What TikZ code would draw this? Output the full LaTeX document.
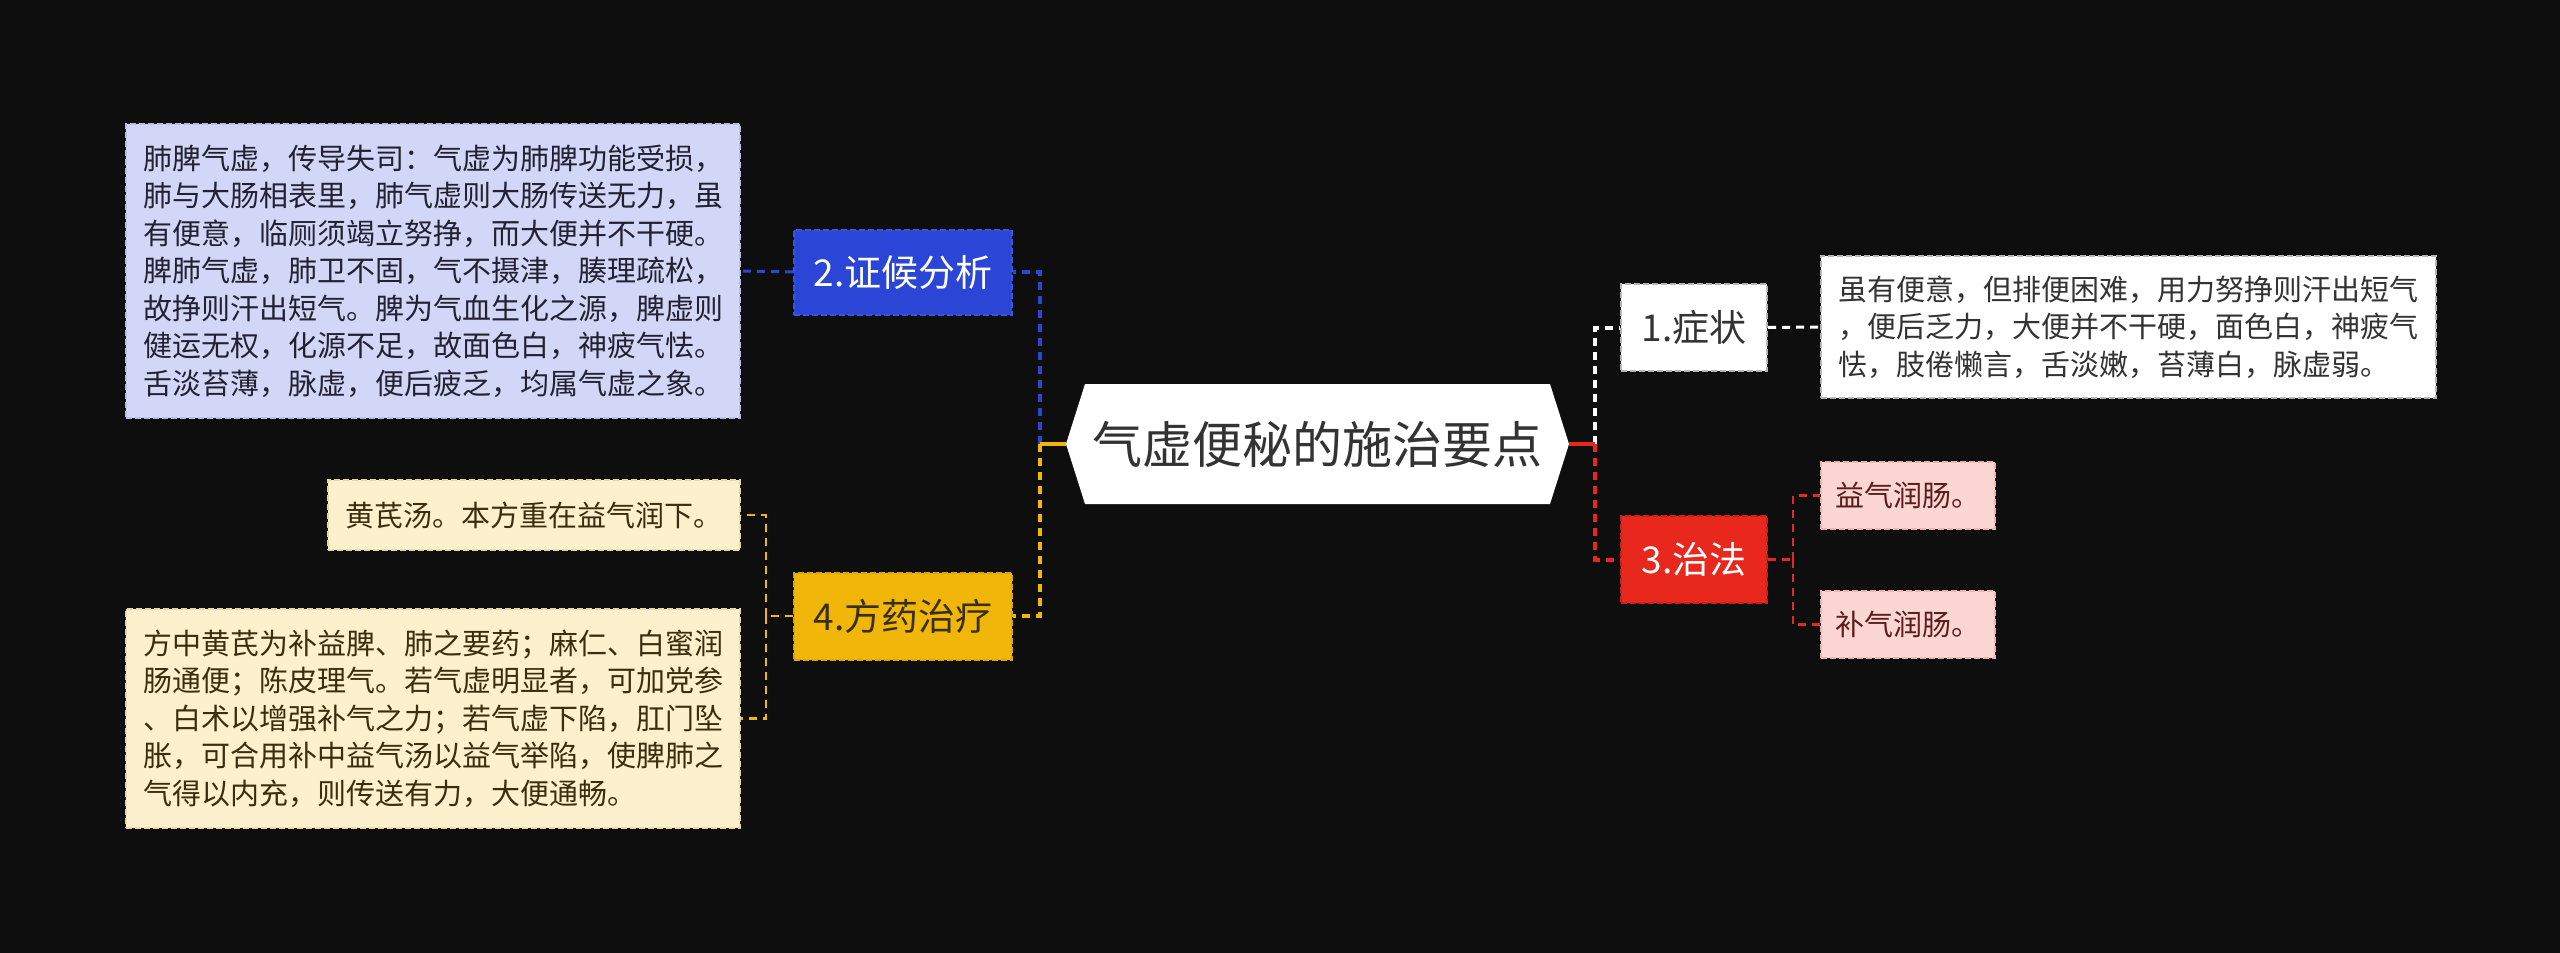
\documentclass[tikz,border=0pt]{standalone}
\usepackage{fontspec}
\setmainfont{Noto Sans CJK SC}
\usetikzlibrary{calc}
\definecolor{bg}{HTML}{0E0E0E}
\definecolor{cblue}{HTML}{2B46D7}
\definecolor{cblueb}{HTML}{3A55E0}
\definecolor{cyellow}{HTML}{F0B70A}
\definecolor{cyellowb}{HTML}{D9A508}
\definecolor{cred}{HTML}{E8281C}
\definecolor{credb}{HTML}{D02015}
\definecolor{clav}{HTML}{D3D7F7}
\definecolor{clavb}{HTML}{B7BCEC}
\definecolor{ccream}{HTML}{FDF1CD}
\definecolor{ccreamb}{HTML}{E6D7A8}
\definecolor{cpink}{HTML}{FCD6D3}
\definecolor{cpinkb}{HTML}{E9B5B0}
\definecolor{cwhiteb}{HTML}{B5B5B5}
\definecolor{ctext}{HTML}{333333}
\definecolor{clavt}{HTML}{222233}
\definecolor{ccreamt}{HTML}{3A2E10}
\definecolor{cpinkt}{HTML}{5A1E1E}
\begin{document}
\begin{tikzpicture}[x=1pt,y=-1pt,
  box/.style={inner sep=0pt, line width=2pt, dash pattern=on 6pt off 3pt},
  leaf/.style={box, align=left, font=\fontsize{29}{37.5}\selectfont},
  branch/.style={box, font=\fontsize{37}{44}\selectfont},
  trunk/.style={line width=4pt},
  dashtrunk/.style={line width=4pt, dash pattern=on 8pt off 6pt},
  dashthin/.style={line width=2.5pt, dash pattern=on 8pt off 6pt}]
\fill[bg] (0,0) rectangle (2560,953);
\useasboundingbox (0,0) rectangle (2560,953);
% central hexagon
\fill[white] (1066,444) -- (1085,384) -- (1550,384) -- (1569,444) -- (1550,504) -- (1085,504) -- cycle;
\node[inner sep=0pt, minimum width=503pt, minimum height=120pt, text=ctext, font=\fontsize{50}{60}\selectfont] (root) at (1317.5,444) {气虚便秘的施治要点};
% branches
\node[branch, fill=cblue, draw=cblueb, text=white, minimum width=218pt, minimum height=85pt] (b2) at (903,272) {2.证候分析};
\node[branch, fill=cyellow, draw=cyellowb, text=ccreamt, minimum width=218pt, minimum height=87pt] (b4) at (903,616) {4.方药治疗};
\node[branch, fill=white, draw=cwhiteb, text=ctext, minimum width=146pt, minimum height=87pt] (b1) at (1694,327.5) {1.症状};
\node[branch, fill=cred, draw=credb, text=white, minimum width=146pt, minimum height=87pt] (b3) at (1694,559.5) {3.治法};
% leaves
\node[leaf, fill=white, draw=cwhiteb, text=ctext, minimum width=615pt, minimum height=142pt] (l1) at (2128.5,327) {虽有便意，但排便困难，用力努挣则汗出短气\\，便后乏力，大便并不干硬，面色白，神疲气\\怯，肢倦懒言，舌淡嫩，苔薄白，脉虚弱。};
\node[leaf, fill=cpink, draw=cpinkb, text=cpinkt, minimum width=174pt, minimum height=67pt] (l31) at (1908,495.5) {益气润肠。};
\node[leaf, fill=cpink, draw=cpinkb, text=cpinkt, minimum width=174pt, minimum height=67pt] (l32) at (1908,624.5) {补气润肠。};
\node[leaf, fill=clav, draw=clavb, text=clavt, minimum width=614pt, minimum height=294pt] (l2) at (433,271) {肺脾气虚，传导失司：气虚为肺脾功能受损，\\肺与大肠相表里，肺气虚则大肠传送无力，虽\\有便意，临厕须竭立努挣，而大便并不干硬。\\脾肺气虚，肺卫不固，气不摄津，腠理疏松，\\故挣则汗出短气。脾为气血生化之源，脾虚则\\健运无权，化源不足，故面色白，神疲气怯。\\舌淡苔薄，脉虚，便后疲乏，均属气虚之象。};
\node[leaf, fill=ccream, draw=ccreamb, text=ccreamt, minimum width=412pt, minimum height=70pt] (l41) at (534,515) {黄芪汤。本方重在益气润下。};
\node[leaf, fill=ccream, draw=ccreamb, text=ccreamt, minimum width=614pt, minimum height=219pt] (l42) at (433,718.5) {方中黄芪为补益脾、肺之要药；麻仁、白蜜润\\肠通便；陈皮理气。若气虚明显者，可加党参\\、白术以增强补气之力；若气虚下陷，肛门坠\\胀，可合用补中益气汤以益气举陷，使脾肺之\\气得以内充，则传送有力，大便通畅。};
% junctions
\coordinate (jl) at (1040,444);
\coordinate (jr) at (1595,444);
\coordinate (j3) at (1793,559.5);
\coordinate (j4) at (766,616);
% connectors left
\draw[dashtrunk, cblue] (jl) |- (b2.east);
\draw[dashtrunk, cyellow] (jl) |- (b4.east);
\draw[trunk, cyellow] (root.west) -- (jl);
% connectors right
\draw[dashtrunk, white] (jr) |- (b1.west);
\draw[dashtrunk, cred] (jr) |- (b3.west);
\draw[trunk, cred] (root.east) -- (jr);
% leaf connectors
\draw[dashtrunk, cblue, line width=3pt] (b2.west) -- (l2.east);
\draw[dashtrunk, white, line width=3pt] (b1.east) -- (l1.west);
\draw[dashthin, cred] (b3.east) -- (j3);
\draw[dashthin, cred] (j3) |- (l31.west);
\draw[dashthin, cred] (j3) |- (l32.west);
\draw[dashthin, cyellow] (b4.west) -- (j4);
\draw[dashthin, cyellow] (j4) |- (l41.east);
\draw[dashthin, cyellow] (j4) |- (l42.east);
\end{tikzpicture}
\end{document}
